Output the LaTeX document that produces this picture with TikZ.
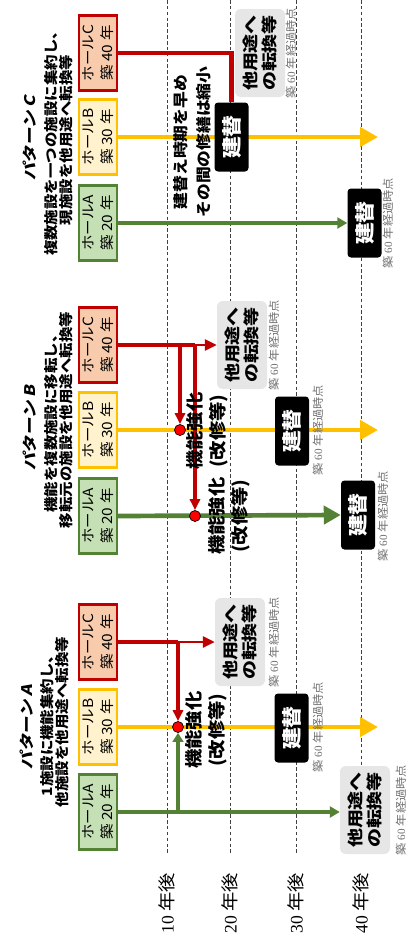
\documentclass[tikz,border=0pt]{standalone}
\usepackage{fontspec}
\setmainfont{Liberation Serif}
\newfontfamily\jp[FakeStretch=1.1]{Noto Sans CJK JP}
\newfontfamily\jpw[FakeStretch=1.2]{Noto Sans CJK JP}
\newfontfamily\jpt[FakeStretch=1.2,FakeSlant=0.2]{Noto Sans CJK JP}
\usetikzlibrary{arrows.meta,backgrounds}

\definecolor{cRed}{HTML}{C00000}
\definecolor{cYellow}{HTML}{FFC000}
\definecolor{cGreen}{HTML}{548235}
\definecolor{fillC}{HTML}{F8CBAD}
\definecolor{fillB}{HTML}{FFF2CC}
\definecolor{fillA}{HTML}{C5E0B4}
\definecolor{convgray}{HTML}{E7E6E6}
\definecolor{labelgray}{HTML}{6E6E6E}

\tikzset{
  hall/.style={rotate=90, draw, line width=1.8pt, minimum width=22.5mm, minimum height=11.4mm,
    inner sep=0pt, align=center, font=\jp\fontsize{12}{15.5}\selectfont},
  rebuild/.style={rotate=90, fill=black, rounded corners=3pt, minimum width=20.7mm, minimum height=10.2mm,
    inner sep=0pt, text=white, font=\jp\bfseries\fontsize{17}{17}\selectfont},
  conv/.style={rotate=90, fill=convgray, rounded corners=5pt, minimum width=26.4mm, minimum height=15mm,
    inner sep=0pt, align=center, font=\jpw\bfseries\fontsize{13.5}{16.5}\selectfont},
  since/.style={rotate=90, inner sep=0pt, text=labelgray, font=\fontsize{9.5}{10}\selectfont},
  upgrade/.style={rotate=90, inner sep=0pt, align=center, font=\jp\bfseries\fontsize{15}{19.5}\selectfont},
  title/.style={rotate=90, inner sep=0pt, font=\jpt\bfseries\fontsize{12.5}{13}\selectfont},
  subtitle/.style={rotate=90, inner sep=0pt, align=center, font=\jp\bfseries\fontsize{12}{13}\selectfont},
  year/.style={rotate=90, inner sep=0pt, font=\fontsize{15}{15}\selectfont},
  dot/.style={circle, fill=red, draw=black, line width=0.6pt, minimum size=3.3mm, inner sep=0pt},
  grid/.style={black!75, line width=0.5pt, dash pattern=on 3pt off 2pt},
  redline/.style={draw=cRed, line width=3.6pt},
  redthin/.style={draw=cRed, line width=2.4pt, -{Triangle[length=3.6mm,width=3.3mm]}},
  redarrow/.style={draw=cRed, line width=2.6pt, -{Triangle[length=3.3mm,width=3mm]}},
  yarrow/.style={draw=cYellow, line width=4pt, -{Triangle[length=5.4mm,width=5.7mm]}},
  gline/.style={draw=cGreen, line width=4pt},
  gthick/.style={draw=cGreen, line width=4pt, -{Triangle[length=5.1mm,width=5.4mm]}},
  gup/.style={draw=cGreen, line width=4pt, -{Triangle[length=2.7mm,width=3.2mm]}},
  gthin/.style={draw=cGreen, line width=2.6pt, -{Triangle[length=3mm,width=3.3mm]}}
}

\begin{document}
\begin{tikzpicture}[x=0.3mm,y=-0.3mm]
\useasboundingbox (0,0) rectangle (414,943);

% years
\node[year] (y10) at (167,903) {10 {\jp 年後}};
\node[year] (y20) at (230,903) {20 {\jp 年後}};
\node[year] (y30) at (296,903) {30 {\jp 年後}};
\node[year] (y40) at (361,903) {40 {\jp 年後}};

% pattern C
\node[title] (titleC) at (30,138) {パターン C};
\node[subtitle] (subC) at (59,140) {複数施設を一つの施設に集約し、\\現施設を他用途へ転換等};
\node[hall, draw=cRed, fill=fillC] (hallCC) at (98,53) {ホールC\\築 40 年};
\node[hall, draw=cYellow, fill=fillB] (hallCB) at (98,137) {ホールB\\築 30 年};
\node[hall, draw=cGreen, fill=fillA] (hallCA) at (98,223) {ホールA\\築 20 年};
\node[upgrade, font=\jp\bfseries\fontsize{13}{19.5}\selectfont] (earlyC) at (192,142) {建替え時期を早め\\その間の修繕は縮小};
\node[rebuild] (rebuildCB) at (231.5,137) {建替};
\node[rebuild] (rebuildCA) at (364.5,223) {建替};
\node[conv] (convCC) at (260,53) {他用途へ\\の転換等};
\node[since] (sinceCC) at (291,53) {{\jp 築} 60 {\jp 年経過時点}};
\node[since] (sinceCA) at (388,223) {{\jp 築} 60 {\jp 年経過時点}};
\coordinate (endCB) at (378,137);

% pattern B
\node[title] (titleB) at (30,428) {パターン B};
\node[subtitle] (subB) at (59,420) {機能を複数施設に移転し、\\移転元の施設を他用途へ転換等};
\node[hall, draw=cRed, fill=fillC] (hallBC) at (98,345) {ホールC\\築 40 年};
\node[hall, draw=cYellow, fill=fillB] (hallBB) at (98,430) {ホールB\\築 30 年};
\node[hall, draw=cGreen, fill=fillA] (hallBA) at (98,516) {ホールA\\築 20 年};
\node[dot] (dotBB) at (180,430) {};
\node[dot] (dotBA) at (195,516) {};
\node[upgrade] (upBB) at (207,431) {機能強化\\(改修等)};
\node[upgrade] (upBA) at (229.5,516) {機能強化\\(改修等)};
\node[rebuild] (rebuildBB) at (292,431) {建替};
\node[rebuild] (rebuildBA) at (358,515) {建替};
\node[conv] (convBC) at (242,345) {他用途へ\\の転換等};
\node[since] (sinceBC) at (274,345) {{\jp 築} 60 {\jp 年経過時点}};
\node[since] (sinceBB) at (318,430) {{\jp 築} 60 {\jp 年経過時点}};
\node[since] (sinceBA) at (383,516) {{\jp 築} 60 {\jp 年経過時点}};
\coordinate (jB1) at (180,345);
\coordinate (jB2) at (195,345);
\coordinate (endBB) at (378,430);

% pattern A
\node[title] (titleA) at (27,727) {パターン A};
\node[subtitle] (subA) at (55,722) {1施設に機能集約し、\\他施設を他用途へ転換等};
\node[hall, draw=cRed, fill=fillC] (hallAC) at (98,642) {ホールC\\築 40 年};
\node[hall, draw=cYellow, fill=fillB] (hallAB) at (98,727) {ホールB\\築 30 年};
\node[hall, draw=cGreen, fill=fillA] (hallAA) at (98,812) {ホールA\\築 20 年};
\node[dot] (dotAB) at (178,727) {};
\node[upgrade] (upAB) at (206,730) {機能強化\\(改修等)};
\node[rebuild] (rebuildAB) at (291.5,728) {建替};
\node[conv] (convAC) at (240,642) {他用途へ\\の転換等};
\node[conv] (convAA) at (365,810) {他用途へ\\の転換等};
\node[since] (sinceAC) at (274,642) {{\jp 築} 60 {\jp 年経過時点}};
\node[since] (sinceAB) at (318,727) {{\jp 築} 60 {\jp 年経過時点}};
\node[since] (sinceAA) at (401,810) {{\jp 築} 60 {\jp 年経過時点}};
\coordinate (jA) at (178,642);
\coordinate (kA) at (178,812);
\coordinate (endAB) at (378,727);

\begin{scope}[on background layer]
\draw[grid] (167,0) -- (167,853);
\draw[grid] (230,0) -- (230,853);
\draw[grid] (296,0) -- (296,853);
\draw[grid] (361,0) -- (361,853);

\draw[yarrow] (hallCB.south) -- (endCB);
\draw[yarrow] (hallBB.south) -- (endBB);
\draw[yarrow] (hallAB.south) -- (endAB);

\draw[gthin] (hallCA.south) -- (rebuildCA.north);
\draw[gthick] (hallBA.south) -- (rebuildBA.north);
\draw[gline] (hallAA.south) -- (kA);
\draw[gup] (kA) -- (dotAB);
\draw[gthin] (kA) -- (kA -| convAA.north);

\draw[redline] (hallCC.south) -| (rebuildCB.east);
\draw[redline] (hallBC.south) -- (jB2);
\draw[redthin] (jB2) -- (jB2 -| convBC.north);
\draw[redarrow] (jB1) -- (dotBB);
\draw[redarrow] (jB2) -- (dotBA);
\draw[redline] (hallAC.south) -- (jA);
\draw[redthin] (jA) -- (jA -| convAC.north);
\draw[redarrow] (jA) -- (dotAB);
\end{scope}
\end{tikzpicture}
\end{document}
